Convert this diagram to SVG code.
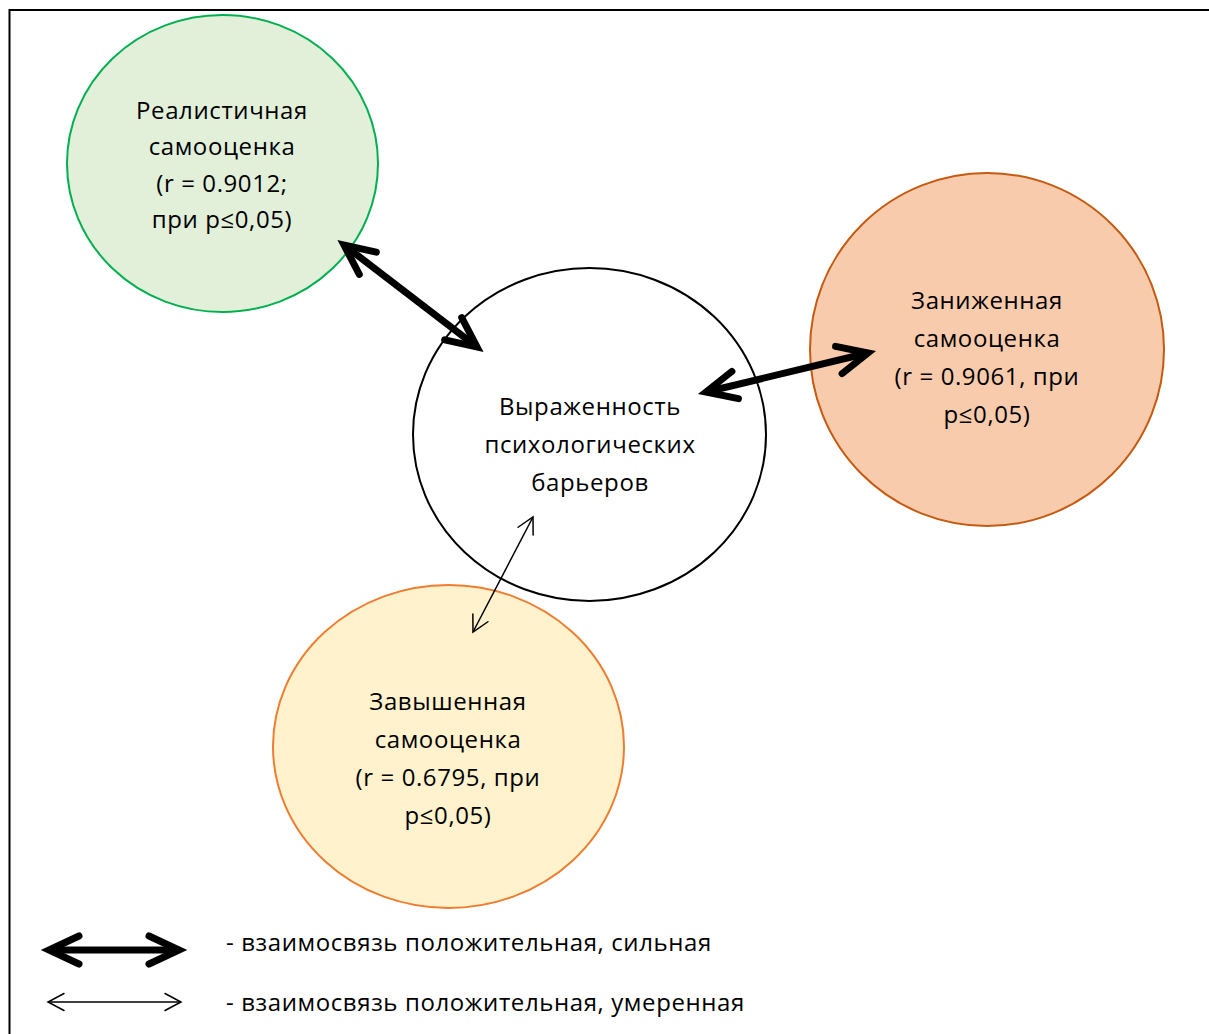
<svg xmlns="http://www.w3.org/2000/svg" width="1209" height="1034" viewBox="0 0 1209 1034">
<style>
text{font-family:"Open Sans","Liberation Sans",sans-serif;font-size:24px;letter-spacing:0.6px;fill:#000;}
.c{text-anchor:middle;}
.strong{stroke:#000;stroke-width:7;fill:none;}
.thin{stroke:#000;stroke-width:1.5;fill:none;}
</style>
<defs>
<marker id="hs" markerUnits="userSpaceOnUse" orient="auto-start-reverse" markerWidth="1" markerHeight="1" refX="0" refY="0" overflow="visible">
<path d="M-30,-14 L0,0 L-30,14" fill="none" stroke="#000" stroke-width="7" stroke-linecap="round" stroke-linejoin="miter"/>
</marker>
<marker id="ht" markerUnits="userSpaceOnUse" orient="auto-start-reverse" markerWidth="1" markerHeight="1" refX="0" refY="0" overflow="visible">
<path d="M-16,-8.5 L0,0 L-16,8.5" fill="none" stroke="#000" stroke-width="1.5" stroke-linecap="round"/>
</marker>
</defs>
<rect x="9.5" y="10" width="1220" height="1050" fill="#fff" stroke="#000" stroke-width="2"/>
<g id="node-realistic">
<ellipse cx="222.5" cy="163.5" rx="155.5" ry="148.5" fill="#E2EFD9" stroke="#00B050" stroke-width="2"/>
<text class="c" x="222" y="119">Реалистичная</text>
<text class="c" x="222" y="155">самооценка</text>
<text class="c" x="222" y="192">(r = 0.9012;</text>
<text class="c" x="222" y="228">при p≤0,05)</text>
</g>
<g id="node-center">
<ellipse cx="589.5" cy="434.5" rx="176.5" ry="166.5" fill="#fff" stroke="#000" stroke-width="2"/>
<text class="c" x="590" y="415">Выраженность</text>
<text class="c" x="590" y="453">психологических</text>
<text class="c" x="590" y="491">барьеров</text>
</g>
<g id="node-low">
<ellipse cx="987" cy="349.5" rx="177" ry="176.5" fill="#F8CBAD" stroke="#C55A11" stroke-width="2"/>
<text class="c" x="987" y="309">Заниженная</text>
<text class="c" x="987" y="347">самооценка</text>
<text class="c" x="987" y="385">(r = 0.9061, при</text>
<text class="c" x="987" y="423">p≤0,05)</text>
</g>
<g id="node-high">
<ellipse cx="448.5" cy="746.5" rx="175.5" ry="161.5" fill="#FFF2CC" stroke="#ED7D31" stroke-width="2"/>
<text class="c" x="448" y="710">Завышенная</text>
<text class="c" x="448" y="748">самооценка</text>
<text class="c" x="448" y="786">(r = 0.6795, при</text>
<text class="c" x="448" y="824">p≤0,05)</text>
</g>
<g id="connectors">
<line class="strong" x1="344" y1="245" x2="477" y2="347" marker-start="url(#hs)" marker-end="url(#hs)"/>
<line class="strong" x1="706" y1="392" x2="868" y2="353" marker-start="url(#hs)" marker-end="url(#hs)"/>
<line class="thin" x1="533" y1="517" x2="473" y2="632" marker-start="url(#ht)" marker-end="url(#ht)"/>
</g>
<g id="legend">
<line class="strong" x1="49" y1="950" x2="179" y2="950" marker-start="url(#hs)" marker-end="url(#hs)"/>
<text x="226" y="951">- взаимосвязь положительная, сильная</text>
<line class="thin" x1="48" y1="1002" x2="181" y2="1002" marker-start="url(#ht)" marker-end="url(#ht)"/>
<text x="226" y="1011">- взаимосвязь положительная, умеренная</text>
</g>
</svg>
